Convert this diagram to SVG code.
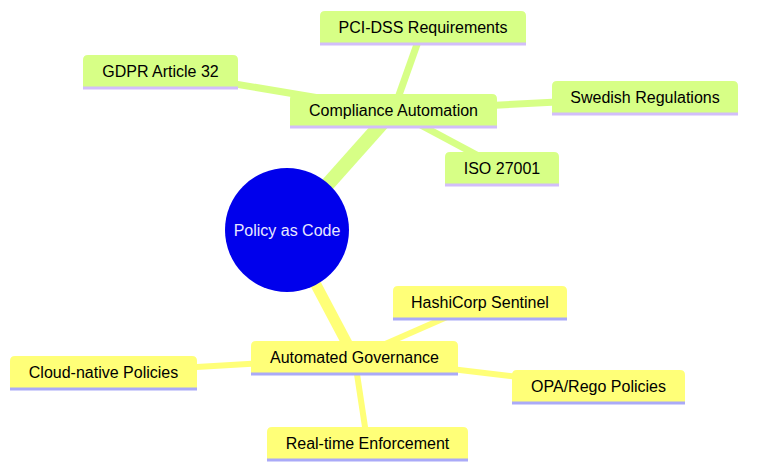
<svg xmlns="http://www.w3.org/2000/svg" width="757" height="476" viewBox="0 0 757 476">
<style>
text{font-family:"Liberation Sans",Arial,sans-serif;font-size:16px;text-anchor:middle;dominant-baseline:central;fill:#000}
.g path.box{fill:#d7ff86}
.g line.u{stroke:#d2befa;stroke-width:3}
.y path.box{fill:#ffff78}
.y line.u{stroke:#aaaaf8;stroke-width:3}
.eg{stroke:#d7ff86;stroke-linecap:butt;fill:none}
.ey{stroke:#ffff78;stroke-linecap:butt;fill:none}
</style>
<rect width="757" height="476" fill="#fff"/>
<g id="connectors">
<line class="eg" x1="287" y1="230" x2="393.5" y2="110.5" stroke-width="14"/>
<line class="ey" x1="287" y1="230" x2="354.5" y2="357.5" stroke-width="11"/>
<line class="eg" x1="393.5" y1="110.5" x2="160.5" y2="71.5" stroke-width="7"/>
<line class="eg" x1="393.5" y1="110.5" x2="423" y2="27.5" stroke-width="7"/>
<line class="eg" x1="393.5" y1="110.5" x2="645" y2="97.5" stroke-width="7"/>
<line class="eg" x1="393.5" y1="110.5" x2="502" y2="168.5" stroke-width="7"/>
<line class="ey" x1="354.5" y1="357.5" x2="480" y2="302.5" stroke-width="6"/>
<line class="ey" x1="354.5" y1="357.5" x2="103.5" y2="372.5" stroke-width="6"/>
<line class="ey" x1="354.5" y1="357.5" x2="598.5" y2="386.5" stroke-width="6"/>
<line class="ey" x1="354.5" y1="357.5" x2="367.5" y2="443.5" stroke-width="6"/>
</g>
<g id="root">
<circle cx="287" cy="230" r="62" fill="#0000ec"/>
<text x="287" y="230" style="fill:#e8e8ff">Policy as Code</text>
</g>
<g id="compliance" class="g" transform="translate(290,94)">
<path class="box" d="M0 28V5Q0 0 5 0H202Q207 0 207 5V33H0Z"/>
<line class="u" x1="0" y1="33" x2="207" y2="33"/>
<text x="103.5" y="16.5">Compliance Automation</text>
</g>
<g id="gdpr" class="g" transform="translate(83,55)">
<path class="box" d="M0 28V5Q0 0 5 0H150Q155 0 155 5V33H0Z"/>
<line class="u" x1="0" y1="33" x2="155" y2="33"/>
<text x="77.5" y="16.5">GDPR Article 32</text>
</g>
<g id="pci" class="g" transform="translate(320,11)">
<path class="box" d="M0 28V5Q0 0 5 0H201Q206 0 206 5V33H0Z"/>
<line class="u" x1="0" y1="33" x2="206" y2="33"/>
<text x="103" y="16.5">PCI-DSS Requirements</text>
</g>
<g id="swedish" class="g" transform="translate(552,81)">
<path class="box" d="M0 28V5Q0 0 5 0H181Q186 0 186 5V33H0Z"/>
<line class="u" x1="0" y1="33" x2="186" y2="33"/>
<text x="93" y="16.5">Swedish Regulations</text>
</g>
<g id="iso" class="g" transform="translate(445,152)">
<path class="box" d="M0 28V5Q0 0 5 0H109Q114 0 114 5V33H0Z"/>
<line class="u" x1="0" y1="33" x2="114" y2="33"/>
<text x="57" y="16.5">ISO 27001</text>
</g>
<g id="governance" class="y" transform="translate(251,341)">
<path class="box" d="M0 28V5Q0 0 5 0H202Q207 0 207 5V33H0Z"/>
<line class="u" x1="0" y1="33" x2="207" y2="33"/>
<text x="103.5" y="16.5">Automated Governance</text>
</g>
<g id="sentinel" class="y" transform="translate(393,286)">
<path class="box" d="M0 28V5Q0 0 5 0H169Q174 0 174 5V33H0Z"/>
<line class="u" x1="0" y1="33" x2="174" y2="33"/>
<text x="87" y="16.5">HashiCorp Sentinel</text>
</g>
<g id="cloud" class="y" transform="translate(10,356)">
<path class="box" d="M0 28V5Q0 0 5 0H182Q187 0 187 5V33H0Z"/>
<line class="u" x1="0" y1="33" x2="187" y2="33"/>
<text x="93.5" y="16.5">Cloud-native Policies</text>
</g>
<g id="opa" class="y" transform="translate(512,370)">
<path class="box" d="M0 28V5Q0 0 5 0H168Q173 0 173 5V33H0Z"/>
<line class="u" x1="0" y1="33" x2="173" y2="33"/>
<text x="86.5" y="16.5">OPA/Rego Policies</text>
</g>
<g id="realtime" class="y" transform="translate(267,427)">
<path class="box" d="M0 28V5Q0 0 5 0H196Q201 0 201 5V33H0Z"/>
<line class="u" x1="0" y1="33" x2="201" y2="33"/>
<text x="100.5" y="16.5">Real-time Enforcement</text>
</g>
</svg>
